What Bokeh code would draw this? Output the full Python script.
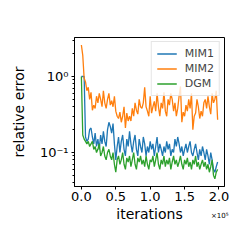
from bokeh.plotting import figure
from bokeh.models import Range1d, FixedTicker, Legend, LegendItem, Title
from bokeh.embed import file_html
from bokeh.resources import INLINE

iterations = list(range(0, 200000, 2000))

mim1 = [1.0, 1.0, 1.0, 0.16, 0.14, 0.15, 0.2, 0.21, 0.16, 0.13,
        0.18, 0.12, 0.15, 0.11, 0.17, 0.13, 0.19, 0.14, 0.12, 0.2,
        0.25, 0.22, 0.18, 0.24, 0.13, 0.08, 0.12, 0.16, 0.1, 0.14,
        0.17, 0.11, 0.09, 0.15, 0.12, 0.19, 0.13, 0.1, 0.14, 0.17,
        0.11, 0.09, 0.15, 0.12, 0.1, 0.16, 0.13, 0.09, 0.12, 0.1,
        0.14, 0.11, 0.13, 0.09, 0.12, 0.16, 0.1, 0.13, 0.11, 0.09,
        0.12, 0.1, 0.14, 0.11, 0.13, 0.09, 0.11, 0.1, 0.15, 0.12,
        0.16, 0.13, 0.1, 0.12, 0.09, 0.11, 0.13, 0.1, 0.12, 0.14,
        0.1, 0.09, 0.11, 0.13, 0.1, 0.08, 0.11, 0.09, 0.12, 0.1,
        0.08, 0.11, 0.09, 0.07, 0.1, 0.08, 0.06, 0.055, 0.065, 0.075]

mim2 = [2.6, 1.9, 0.95, 0.85, 0.65, 0.72, 0.5, 0.62, 0.36, 0.42,
        0.38, 0.55, 0.45, 0.6, 0.5, 0.4, 0.65, 0.45, 0.38, 0.5,
        0.6, 0.42, 0.48, 0.4, 0.55, 0.35, 0.3, 0.28, 0.34, 0.25,
        0.3, 0.4, 0.21, 0.33, 0.26, 0.3, 0.26, 0.38, 0.3, 0.45,
        0.36, 0.32, 0.5, 0.4, 0.38, 0.45, 0.72, 0.4, 0.35, 0.3,
        0.55, 0.33, 0.4, 0.47, 0.35, 0.6, 0.4, 0.3, 0.45, 0.38,
        0.62, 0.35, 0.3, 0.5, 0.42, 0.6, 0.5, 0.35, 0.45, 0.3,
        0.38, 0.55, 0.74, 0.25, 0.34, 0.3, 0.42, 0.35, 0.5, 0.38,
        0.6, 0.2, 0.3, 0.33, 0.5, 0.4, 0.28, 0.35, 0.3, 0.45,
        0.5, 0.38, 0.55, 0.4, 0.32, 0.6, 0.45, 0.5, 0.65, 0.27]

dgm = [1.0, 0.17, 0.15, 0.14, 0.13, 0.14, 0.12, 0.13, 0.14, 0.11,
       0.12, 0.1, 0.11, 0.13, 0.09, 0.1, 0.12, 0.09, 0.08, 0.1,
       0.11, 0.09, 0.08, 0.1, 0.07, 0.055, 0.08, 0.09, 0.07, 0.08,
       0.1, 0.07, 0.06, 0.085, 0.075, 0.09, 0.065, 0.08, 0.1, 0.07,
       0.06, 0.085, 0.075, 0.09, 0.07, 0.08, 0.065, 0.09, 0.07, 0.06,
       0.08, 0.075, 0.09, 0.065, 0.08, 0.1, 0.07, 0.06, 0.08, 0.07,
       0.09, 0.065, 0.08, 0.07, 0.085, 0.06, 0.075, 0.09, 0.07, 0.08,
       0.065, 0.075, 0.09, 0.07, 0.06, 0.08, 0.07, 0.085, 0.065, 0.075,
       0.06, 0.08, 0.07, 0.09, 0.065, 0.075, 0.06, 0.07, 0.08, 0.065,
       0.075, 0.06, 0.07, 0.055, 0.065, 0.08, 0.05, 0.045, 0.055, 0.06]

series_names = ["MIM1", "MIM2", "DGM"]
series_colors = ["#1f77b4", "#ff7f0e", "#2ca02c"]
x_ticks = [0, 50000, 100000, 150000, 200000]
x_tick_labels = ["0.0", "0.5", "1.0", "1.5", "2.0"]
x_offset_text = "×10⁵"
y_ticks = [0.1, 1.0]
y_tick_labels = ["10⁻¹", "10⁰"]
y_minor_ticks = [0.04, 0.05, 0.06, 0.07, 0.08, 0.09,
                 0.2, 0.3, 0.4, 0.5, 0.6, 0.7, 0.8, 0.9, 2.0, 3.0]

FONT = "DejaVu Sans"

p = figure(width=233, height=233, y_axis_type="log",
           x_range=Range1d(-10000, 208000), y_range=Range1d(0.0357, 3.26),
           output_backend="svg", toolbar_location=None,
           min_border_left=74, min_border_top=37, min_border_right=9,
           min_border_bottom=47)

p.grid.visible = False
p.outline_line_color = "black"
p.outline_line_width = 1
p.background_fill_color = "white"
p.border_fill_color = "white"

items = []
for name, data, color in zip(series_names, [mim1, mim2, dgm], series_colors):
    r = p.line(iterations, data, line_color=color, line_width=1.3)
    items.append(LegendItem(label=name, renderers=[r]))

legend = Legend(items=items, location="top_right")
legend.label_text_font = FONT
legend.label_text_font_size = "11px"
legend.label_height = 13
legend.glyph_height = 13
legend.glyph_width = 20
legend.spacing = 2
legend.padding = 5
legend.margin = 4
legend.label_standoff = 8
legend.border_line_color = "#cccccc"
legend.border_line_width = 1
legend.background_fill_alpha = 0.8
p.add_layout(legend)

p.xaxis.ticker = FixedTicker(ticks=x_ticks)
p.xaxis.major_label_overrides = {t: l for t, l in zip(x_ticks, x_tick_labels)}
p.yaxis.ticker = FixedTicker(ticks=y_ticks, minor_ticks=y_minor_ticks)
p.yaxis.major_label_overrides = {t: l for t, l in zip(y_ticks, y_tick_labels)}

for ax in [p.xaxis[0], p.yaxis[0]]:
    ax.axis_line_color = "black"
    ax.major_tick_line_color = "black"
    ax.minor_tick_line_color = "black"
    ax.major_tick_in = 0
    ax.major_tick_out = 3
    ax.minor_tick_in = 0
    ax.minor_tick_out = 2
    ax.major_label_text_font = FONT
    ax.major_label_text_font_size = "13px"
    ax.major_label_text_color = "black"
    ax.axis_label_text_font = FONT
    ax.axis_label_text_font_size = "14px"
    ax.axis_label_text_font_style = "normal"
    ax.axis_label_text_color = "black"

p.xaxis.axis_label = "iterations"
p.yaxis.axis_label = "relative error"
p.xaxis.major_label_standoff = 2
p.xaxis.axis_label_standoff = 2
p.yaxis.major_label_standoff = 3
p.yaxis.axis_label_standoff = 10

offset_title = Title(text=x_offset_text, align="right", text_font=FONT,
                     text_font_size="7px", text_font_style="normal",
                     text_color="black", vertical_align="top",
                     standoff=-25, offset=-4)
p.add_layout(offset_title, "below")

open("out.html", "w").write(file_html(p, INLINE))
